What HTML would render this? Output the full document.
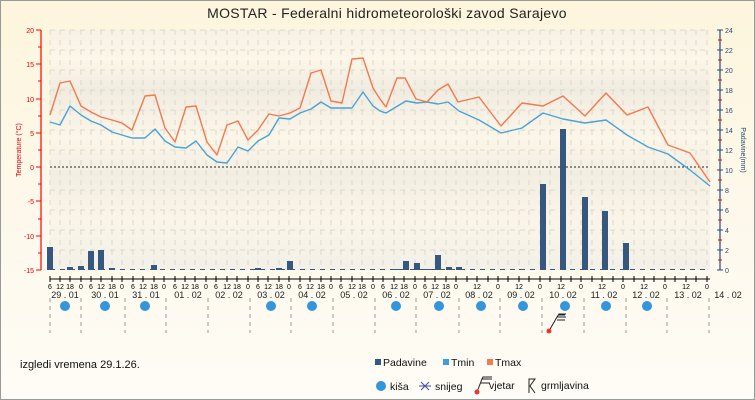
<!DOCTYPE html>
<html><head><meta charset="utf-8"><style>
html,body{margin:0;padding:0;width:755px;height:400px;overflow:hidden;background:#fff;}
svg{display:block;font-family:"Liberation Sans","DejaVu Sans",sans-serif;}
</style></head><body>
<svg width="755" height="400" viewBox="0 0 755 400" xmlns="http://www.w3.org/2000/svg">
<defs>
<linearGradient id="bg" x1="0" y1="0" x2="0" y2="1">
<stop offset="0" stop-color="#fdf5dc"/><stop offset="0.5" stop-color="#fdf8ea"/><stop offset="1" stop-color="#fefcf6"/></linearGradient>
<linearGradient id="pl" x1="0" y1="0" x2="0" y2="1">
<stop offset="0" stop-color="#f6f1e4"/><stop offset="0.12" stop-color="#fcf7e8"/><stop offset="0.25" stop-color="#f1ece0"/><stop offset="0.45" stop-color="#fbf6e8"/><stop offset="0.6" stop-color="#f3eee2"/><stop offset="0.8" stop-color="#faf5e8"/><stop offset="1" stop-color="#f3f0e8"/></linearGradient>
</defs>
<rect x="0" y="0" width="755" height="400" fill="url(#bg)"/>
<rect x="0.5" y="0.5" width="754" height="399" fill="none" stroke="#999" stroke-width="1"/>
<text x="387" y="18" font-size="14" text-anchor="middle" fill="#222" letter-spacing="0.3">MOSTAR - Federalni hidrometeorološki zavod Sarajevo</text>
<rect x="50" y="30" width="660" height="240" fill="url(#pl)"/>
<g stroke="#dcd8ce" stroke-width="1" stroke-dasharray="5,5">
<path d="M50 30H710M50 50H710M50 70H710M50 90H710M50 110H710M50 130H710M50 150H710M50 190H710M50 210H710M50 230H710M50 250H710"/>
<path d="M50 30V270M60 30V270M70 30V270M81 30V270M91 30V270M101 30V270M112 30V270M122 30V270M133 30V270M143 30V270M154 30V270M164 30V270M175 30V270M185 30V270M195 30V270M206 30V270M216 30V270M227 30V270M237 30V270M248 30V270M258 30V270M268 30V270M279 30V270M289 30V270M300 30V270M310 30V270M321 30V270M331 30V270M341 30V270M352 30V270M362 30V270M373 30V270M383 30V270M394 30V270M404 30V270M415 30V270M425 30V270M435 30V270M446 30V270M456 30V270M467 30V270M477 30V270M488 30V270M498 30V270M508 30V270M519 30V270M529 30V270M540 30V270M550 30V270M561 30V270M571 30V270M581 30V270M592 30V270M602 30V270M613 30V270M623 30V270M634 30V270M644 30V270M654 30V270M665 30V270M675 30V270M686 30V270M696 30V270M707 30V270"/>
</g>
<line x1="50" y1="167" x2="710" y2="167" stroke="#222" stroke-width="1" stroke-dasharray="2,2"/>
<line x1="41" y1="30" x2="41" y2="270" stroke="#f00" stroke-width="1.2"/>
<g stroke="#f00" stroke-width="1">
<path d="M36 30H41M36 64H41M36 99H41M36 133H41M36 167H41M36 201H41M36 236H41M36 270H41"/>
<path d="M38 47H41M38 81H41M38 116H41M38 150H41M38 184H41M38 219H41M38 253H41"/>
</g>
<g fill="#e00" font-size="7" text-anchor="end">
<text x="34" y="33">20</text><text x="34" y="67">15</text><text x="34" y="102">10</text><text x="34" y="136">5</text><text x="34" y="170">0</text><text x="34" y="204">-5</text><text x="34" y="239">-10</text><text x="34" y="273">-15</text>
</g>
<text transform="translate(21,150) rotate(-90)" font-size="7" fill="#e00" text-anchor="middle">Temperature (°C)</text>
<line x1="720" y1="30" x2="720" y2="270" stroke="#2a4a7a" stroke-width="1.2"/>
<g stroke="#2a4a7a"><path d="M717 30H723M717 50H723M717 70H723M717 90H723M717 110H723M717 130H723M717 150H723M717 170H723M717 190H723M717 210H723M717 230H723M717 250H723M717 270H723"/></g>
<g stroke="#f00"><path d="M718 40H722M718 60H722M718 80H722M718 100H722M718 120H722M718 140H722M718 160H722M718 180H722M718 200H722M718 220H722M718 240H722M718 260H722"/></g>
<g fill="#2a4a7a" font-size="7">
<text x="725" y="33">24</text><text x="725" y="53">22</text><text x="725" y="73">20</text><text x="725" y="93">18</text><text x="725" y="113">16</text><text x="725" y="133">14</text><text x="725" y="153">12</text><text x="725" y="173">10</text><text x="725" y="193">8</text><text x="725" y="213">6</text><text x="725" y="233">4</text><text x="725" y="253">2</text><text x="725" y="273">0</text>
</g>
<text transform="translate(741,150) rotate(90)" font-size="7" fill="#2a4a7a" text-anchor="middle">Padavine(mm)</text>
<g fill="#36577e">
<rect x="47" y="247" width="6" height="23"/><rect x="67" y="267" width="6" height="3"/><rect x="78" y="266" width="6" height="4"/><rect x="88" y="251" width="6" height="19"/><rect x="98" y="250" width="6" height="20"/><rect x="109" y="268" width="6" height="2"/><rect x="151" y="265" width="6" height="5"/><rect x="255" y="268" width="6" height="2"/><rect x="276" y="268" width="6" height="2"/><rect x="287" y="261" width="6" height="9"/>
<rect x="394" y="269" width="6" height="1"/><rect x="403" y="261" width="6" height="9"/><rect x="414" y="263" width="6" height="7"/><rect x="424" y="269" width="6" height="1"/><rect x="435" y="255" width="6" height="15"/><rect x="446" y="267" width="6" height="3"/><rect x="456" y="267" width="6" height="3"/><rect x="519" y="269" width="6" height="1"/>
<rect x="540" y="184" width="6" height="86"/><rect x="560" y="129" width="6" height="141"/><rect x="582" y="197" width="6" height="73"/><rect x="602" y="211" width="6" height="59"/><rect x="623" y="243" width="6" height="27"/>
</g>
<line x1="50" y1="269.5" x2="710" y2="269.5" stroke="#36577e" stroke-width="1" stroke-dasharray="5,5"/>
<polyline fill="none" stroke="#4aa3d6" stroke-width="1.4" stroke-linejoin="round" points="50,122 60,125 70,106 81,115 91,121 101,125 112,132 122,135 132,138 145,138 155,129 165,141 175,147 186,148 196,141 207,155 217,162 227,163 238,147 248,151 258,141 269,135 279,118 290,119 300,113 311,109 321,102 331,108 342,108 352,108 363,92 373,106 380,111 386,113 406,101 417,103 427,102 438,104 448,102 459,111 479,120 501,133 522,128 543,113 563,119 585,123 606,120 627,135 648,147 668,154 690,170 710,186"/>
<polyline fill="none" stroke="#f5784f" stroke-width="1.4" stroke-linejoin="round" points="50,115 60,83 70,81 81,106 91,112 101,117 112,120 122,123 132,130 145,96 155,95 165,128 175,142 186,107 196,106 207,142 217,155 227,125 238,121 248,140 258,130 269,114 279,116 290,113 300,108 311,73 321,70 331,101 342,103 352,59 363,58 373,88 380,99 386,107 397,78 405,78 416,99 427,102 438,90 448,84 458,102 479,97 501,126 522,103 543,106 563,96 585,116 606,93 627,115 648,107 668,145 690,153 710,182"/>
<line x1="50" y1="279" x2="710" y2="279" stroke="#000" stroke-width="1"/>
<g stroke="#000"><path d="M50 276V282M60 276V282M70 276V282M81 276V282M91 276V282M101 276V282M112 276V282M122 276V282M133 276V282M143 276V282M154 276V282M164 276V282M175 276V282M185 276V282M195 276V282M206 276V282M216 276V282M227 276V282M237 276V282M248 276V282M258 276V282M268 276V282M279 276V282M289 276V282M300 276V282M310 276V282M321 276V282M331 276V282M341 276V282M352 276V282M362 276V282M373 276V282M383 276V282M394 276V282M404 276V282M415 276V282M425 276V282M435 276V282M446 276V282M456 276V282M467 276V282M477 276V282M488 276V282M498 276V282M508 276V282M519 276V282M529 276V282M540 276V282M550 276V282M561 276V282M571 276V282M581 276V282M592 276V282M602 276V282M613 276V282M623 276V282M634 276V282M644 276V282M654 276V282M665 276V282M675 276V282M686 276V282M696 276V282M707 276V282"/></g>
<g font-size="7" fill="#000" text-anchor="middle">
<text x="50" y="289">6</text><text x="60" y="289">12</text><text x="70" y="289">18</text><text x="81" y="289">0</text><text x="91" y="289">6</text><text x="101" y="289">12</text><text x="112" y="289">18</text><text x="122" y="289">0</text><text x="133" y="289">6</text><text x="143" y="289">12</text><text x="154" y="289">18</text><text x="164" y="289">0</text><text x="175" y="289">6</text><text x="185" y="289">12</text><text x="195" y="289">18</text><text x="206" y="289">0</text><text x="216" y="289">6</text><text x="227" y="289">12</text><text x="237" y="289">18</text><text x="248" y="289">0</text><text x="258" y="289">6</text><text x="268" y="289">12</text><text x="279" y="289">18</text><text x="289" y="289">0</text><text x="300" y="289">6</text><text x="310" y="289">12</text><text x="321" y="289">18</text><text x="331" y="289">0</text><text x="341" y="289">6</text><text x="352" y="289">12</text><text x="362" y="289">18</text><text x="373" y="289">0</text><text x="383" y="289">6</text><text x="394" y="289">12</text><text x="404" y="289">18</text><text x="415" y="289">0</text><text x="425" y="289">6</text><text x="435" y="289">12</text><text x="446" y="289">18</text><text x="456" y="289">0</text><text x="477" y="289">12</text><text x="498" y="289">0</text><text x="519" y="289">12</text><text x="540" y="289">0</text><text x="561" y="289">12</text><text x="581" y="289">0</text><text x="602" y="289">12</text><text x="623" y="289">0</text><text x="644" y="289">12</text><text x="665" y="289">0</text><text x="686" y="289">12</text><text x="707" y="289">0</text>
</g>
<g font-size="9" fill="#222" text-anchor="middle">
<text x="65" y="298">29 . 01</text><text x="105" y="298">30 . 01</text><text x="146" y="298">31 . 01</text><text x="188" y="298">01 . 02</text><text x="229" y="298">02 . 02</text><text x="271" y="298">03 . 02</text><text x="312" y="298">04 . 02</text><text x="354" y="298">05 . 02</text><text x="396" y="298">06 . 02</text><text x="437" y="298">07 . 02</text><text x="479" y="298">08 . 02</text><text x="521" y="298">09 . 02</text><text x="563" y="298">10 . 02</text><text x="604" y="298">11 . 02</text><text x="646" y="298">12 . 02</text><text x="688" y="298">13 . 02</text><text x="728" y="298">14 . 02</text>
</g>
<g stroke="#999" stroke-dasharray="4,4"><path d="M50 298V333M81 298V333M125 298V333M166 298V333M208 298V333M250 298V333M291 298V333M333 298V333M375 298V333M416 298V333M459 298V333M500 298V333M542 298V333M584 298V333M626 298V333M667 298V333M709 298V333"/></g>
<g fill="#3395da">
<circle cx="65" cy="306" r="5"/><circle cx="105" cy="306" r="5"/><circle cx="145" cy="306" r="5"/><circle cx="271" cy="306" r="5"/><circle cx="312" cy="306" r="5"/><circle cx="396" cy="306" r="5"/><circle cx="439" cy="306" r="5"/><circle cx="481" cy="306" r="5"/><circle cx="523" cy="306" r="5"/><circle cx="565" cy="306" r="5"/><circle cx="606" cy="306" r="5"/><circle cx="647" cy="306" r="5"/>
</g>
<g stroke="#222" stroke-width="1" fill="none"><path d="M549 331L557 317H566M557 317L559 314H566M558 315H565M557 320H565"/></g>
<circle cx="549" cy="331" r="2.5" fill="#e33"/>
<text x="20" y="368" font-size="11" fill="#111">izgledi vremena 29.1.26.</text>
<rect x="375" y="359" width="6" height="6" fill="#36577e"/><text x="383" y="366" font-size="10.5" fill="#111">Padavine</text>
<rect x="443" y="359" width="6" height="6" fill="#3aa0de"/><text x="451" y="366" font-size="10.5" fill="#111">Tmin</text>
<rect x="487" y="359" width="6" height="6" fill="#f5784f"/><text x="495" y="366" font-size="10.5" fill="#111">Tmax</text>
<circle cx="381" cy="386" r="5" fill="#3395da"/><text x="390" y="390" font-size="10.5" fill="#111">kiša</text>
<path d="M421 382L429 390M429 382L421 390M419 386H431" stroke="#4050a0" stroke-width="1"/><text x="435" y="390" font-size="10.5" fill="#111">snijeg</text>
<path d="M477 392L482 379H492M482 379L483 377H492M481 383H490" stroke="#222" fill="none"/><circle cx="477" cy="392" r="2.5" fill="#e33"/><text x="489" y="389" font-size="10.5" fill="#111">vjetar</text>
<path d="M529 393V379H535L530 386L535 393" stroke="#222" fill="none"/><text x="541" y="389" font-size="10.5" fill="#111">grmljavina</text>
</svg>
</body></html>
